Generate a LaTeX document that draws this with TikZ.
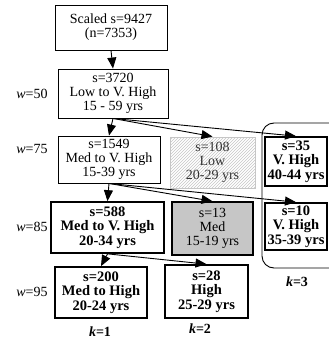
\documentclass[tikz,border=0pt]{standalone}
\usepackage{fontspec}
\setmainfont{Liberation Serif}
\newfontfamily\timesfont{Liberation Serif}
\usetikzlibrary{arrows.meta,patterns}

\begin{document}
\begin{tikzpicture}[x=1pt,y=-1pt,font=\timesfont\fontsize{14}{14}\selectfont,
  nbox/.style={draw,line width=0.9pt,align=center,inner sep=1pt},
  hbox/.style={nbox,line width=1.7pt,font=\timesfont\fontsize{14.5}{14.5}\selectfont\bfseries},
  hatchbox/.style={nbox,draw=gray!45,pattern=north east lines,pattern color=gray!45,text=black!80},
  greybox/.style={nbox,line width=1.5pt,fill=gray!45}]
\useasboundingbox (0,0) rectangle (329,340);

% Group frame for k=3:
\node [draw,line width=0.9pt,rounded corners=12pt,minimum width=90pt,minimum height=145pt] (grp_k3) at (307,195.5) {};

% Boxes:
\node [nbox,minimum width=112pt,minimum height=45pt] (n_9427) at (111,27.5) {Scaled s=9427\\(n=7353)};
\node [nbox,minimum width=110pt,minimum height=49pt] (n_3720) at (113,93.5) {s=3720\\Low to V. High\\15 - 59 yrs};
\node [nbox,minimum width=102pt,minimum height=47pt] (n_1549) at (109,159.5) {s=1549\\Med to V. High\\15-39 yrs};
\node [hatchbox,minimum width=85pt,minimum height=51pt] (n_108) at (212.5,162.5) {s=108\\Low\\20-29 yrs};
\node [hbox,minimum width=62pt,minimum height=49pt] (n_35) at (296,161.5) {s=35\\V. High\\40-44 yrs};

\node [hbox,minimum width=113pt,minimum height=51pt] (n_588) at (107.5,227.5) {s=588\\Med to V. High\\20-34 yrs};
\node [greybox,minimum width=81pt,minimum height=53pt] (n_13) at (212.5,228.5) {s=13\\Med\\15-19 yrs};
\node [hbox,minimum width=62pt,minimum height=47pt] (n_10) at (296,226.5) {s=10\\V. High\\35-39 yrs};

\node [hbox,minimum width=92pt,minimum height=51pt] (n_200) at (101,292.5) {s=200\\Med to High\\20-24 yrs};
\node [hbox,minimum width=83pt,minimum height=53pt] (n_28) at (206.5,291.5) {s=28\\High\\25-29 yrs};

% Row labels:
\foreach \v/\y in {50/94,75/149,85/227,95/292}{%
    \node (w_\v) at (32,\y) {\textit{w}=\v};
}

% Group labels:
\node (k_1) at (100,332) {\bfseries\textit{k}=1};
\node (k_2) at (200,329) {\bfseries\textit{k}=2};
\node (k_3) at (297,282) {\bfseries\textit{k}=3};

% Edges
\begin{scope}[line width=0.9pt,every path/.style={draw,-{Triangle[length=11pt,width=9pt]}}]
\path (n_9427.south) -- (n_3720.north);
\path (n_3720.south) -- (n_1549.north);
\path (n_3720.south) -- (n_108.north);
\path (n_3720.south) -- (n_35.north);
\path (n_1549.south) -- (n_588.north);
\path (n_1549.south) -- (n_13.north);
\path (n_1549.south) -- (n_10.north);
\path (n_588.south) -- (n_200.north);
\path (n_588.south) -- (n_28.north);
\end{scope}
\end{tikzpicture}
\end{document}
